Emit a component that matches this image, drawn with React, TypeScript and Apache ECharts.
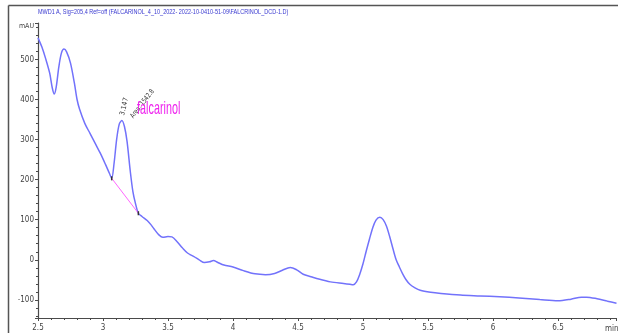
import React, { useEffect, useRef } from "react";
import * as echarts from "echarts";

const TIMES = [
  2.5, 2.53, 2.56, 2.59, 2.61, 2.625, 2.64, 2.66, 2.68, 2.7, 2.72, 2.75, 2.78, 2.8, 2.82, 2.86, 2.9, 2.94, 2.98,
  3.02, 3.05, 3.067, 3.085, 3.105, 3.125, 3.145, 3.165, 3.185, 3.21, 3.23, 3.25, 3.272, 3.3, 3.34, 3.37, 3.4,
  3.43, 3.46, 3.5, 3.53, 3.57, 3.61, 3.65, 3.7, 3.74, 3.78, 3.82, 3.85, 3.88, 3.93, 4.0, 4.08, 4.17, 4.25,
  4.32, 4.38, 4.44, 4.49, 4.54, 4.6, 4.66, 4.75, 4.85, 4.9, 4.925, 4.95, 4.975, 5.0, 5.025, 5.05, 5.075, 5.1,
  5.13, 5.155, 5.18, 5.205, 5.23, 5.255, 5.28, 5.305, 5.33, 5.36, 5.4, 5.44, 5.52, 5.6, 5.75, 5.9, 6.05, 6.2,
  6.36, 6.5, 6.6, 6.68, 6.72, 6.8, 6.88, 6.95,
];
const SIGNAL = [
  553, 530, 500, 465, 428, 413, 430, 480, 515, 525, 518, 490, 440, 400, 375, 340, 315, 290, 265,
  237, 215, 203, 240, 300, 338, 347, 332, 295, 220, 170, 140, 116, 108, 98, 87, 74,
  62, 56, 58, 57, 45, 30, 17, 8, 0, -7, -5, -2, -6, -13, -18, -27, -35, -37,
  -34, -26, -19, -25, -36, -42, -48, -55, -59, -61, -62, -55, -36, -10, 22, 52, 80, 99,
  106, 100, 84, 58, 28, 0, -18, -35, -49, -61, -70, -76, -81, -84, -88, -90, -92, -95,
  -99, -102, -98, -93, -93, -97, -103, -108,
];
const BASELINE_T = [3.067, 3.272];
const BASELINE_V = [203, 116];
const PEAK_T = 3.147;
const PEAK_V = 347;
const PEAK_AREA = "Area: 1542.8";
const COMPOUND = "falcarinol";
const TITLE = "MWD1 A, Sig=205,4 Ref=off (FALCARINOL_4_10_2022- 2022-10-0410-51-09\\FALCRINOL_DCD-1.D)";
const X_MIN = 2.5;
const X_MAX = 6.95;
const Y_MIN = -145;
const Y_MAX = 590;

const NARROW = "'Liberation Sans Narrow', 'Arial Narrow', 'DejaVu Sans Condensed', 'Liberation Sans', Arial, sans-serif";

export default function App() {
  const ref = useRef<HTMLDivElement>(null);
  useEffect(() => {
    if (!ref.current) return;
    const chart = echarts.init(ref.current, undefined, { renderer: "svg" });
    const axisColor = "#4a4a4a";
    chart.setOption({
      animation: false,
      grid: { left: 38, top: 23, right: 1.5, bottom: 15, containLabel: false, outerBoundsMode: "none" },
      xAxis: {
        type: "value",
        min: X_MIN,
        max: X_MAX,
        interval: 0.5,
        axisLine: { show: true, onZero: false, lineStyle: { color: axisColor, width: 1.2 } },
        axisTick: { show: true, length: 3, lineStyle: { color: axisColor } },
        minorTick: { show: true, splitNumber: 5, length: 2, lineStyle: { color: axisColor } },
        splitLine: { show: false },
        axisLabel: {
          showMaxLabel: false,
          margin: 5,
          fontSize: 8,
          color: "#444",
          fontFamily: NARROW,
          formatter: (v: number) => String(v),
        },
      },
      yAxis: {
        type: "value",
        min: Y_MIN,
        max: Y_MAX,
        splitNumber: 7,
        axisLine: { show: true, onZero: false, lineStyle: { color: axisColor, width: 1.2 } },
        axisTick: { show: true, length: 3, lineStyle: { color: axisColor } },
        minorTick: { show: true, splitNumber: 5, length: 2, lineStyle: { color: axisColor } },
        splitLine: { show: false },
        axisLabel: {
          showMinLabel: false,
          showMaxLabel: false,
          margin: 4,
          fontSize: 8,
          color: "#444",
          fontFamily: NARROW,
        },
      },
      series: [
        {
          type: "line",
          data: TIMES.map((t, i) => [t, SIGNAL[i]]),
          smooth: 0.3,
          showSymbol: false,
          lineStyle: { color: "#7272fb", width: 1.5 },
          z: 3,
        },
        {
          type: "line",
          data: BASELINE_T.map((t, i) => [t, BASELINE_V[i]]),
          showSymbol: true,
          symbol: "rect",
          symbolSize: [1.5, 4],
          itemStyle: { color: "#333" },
          lineStyle: { color: "#ff66ff", width: 1 },
          z: 4,
        },
      ],
    });

    const [px, py] = chart.convertToPixel({ gridIndex: 0 }, [PEAK_T, PEAK_V]) as number[];
    chart.setOption({
      graphic: [
        { type: "line", shape: { x1: 8.5, y1: 5.5, x2: 618, y2: 5.5 }, style: { stroke: "#555", lineWidth: 1.5 } },
        { type: "line", shape: { x1: 8.5, y1: 5.5, x2: 8.5, y2: 333 }, style: { stroke: "#555", lineWidth: 1.5 } },
        {
          type: "text",
          x: 38,
          y: 11,
          scaleX: 0.69,
          style: { text: TITLE, fontSize: 8, fill: "#3838d0", fontFamily: "'Liberation Sans', Arial, sans-serif", verticalAlign: "middle", align: "left" },
        },
        {
          type: "text",
          x: 34,
          y: 26,
          style: { text: "mAU", fontSize: 7, fill: "#444", fontFamily: NARROW, verticalAlign: "middle", align: "right" },
        },
        {
          type: "text",
          x: 605,
          y: 328,
          style: { text: "min", fontSize: 8, fill: "#444", fontFamily: NARROW, verticalAlign: "middle", align: "left" },
        },
        {
          type: "text",
          x: px + 2,
          y: py - 14,
          rotation: (77 * Math.PI) / 180,
          style: { text: String(PEAK_T), fontSize: 7, fill: "#333", fontFamily: NARROW, verticalAlign: "middle", align: "center" },
        },
        {
          type: "text",
          x: px + 20,
          y: py - 17,
          rotation: (52 * Math.PI) / 180,
          scaleX: 0.85,
          style: { text: PEAK_AREA, fontSize: 7, fill: "#333", fontFamily: NARROW, verticalAlign: "middle", align: "center" },
        },
        {
          type: "text",
          x: px + 15,
          y: py - 13,
          scaleX: 0.6,
          style: { text: COMPOUND, fontSize: 18, fill: "#ee22ee", fontFamily: "'Liberation Sans', Arial, sans-serif", verticalAlign: "middle", align: "left" },
        },
      ],
    });
    return () => chart.dispose();
  }, []);
  return <div ref={ref} style={{ position: "fixed", left: 0, top: 0, width: 618, height: 333 }} />;
}
